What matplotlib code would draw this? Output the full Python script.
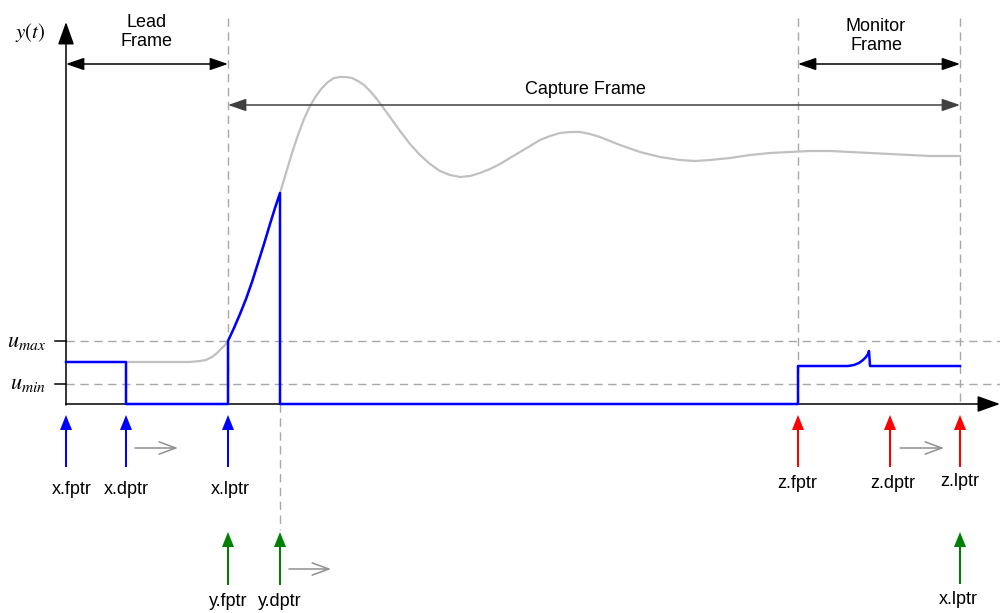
import matplotlib.pyplot as plt

plt.rcParams['font.family'] = ['Liberation Sans', 'DejaVu Sans']
plt.rcParams['mathtext.fontset'] = 'stix'

# drawing is laid out in pixel units, y grows downward
x0, y0 = 66, 404          # origin of the y(t) axes
x_end, y_top = 1000, 22
u_max, u_min = 341, 384

# pointer positions along the time axis, and where their labels are centred
x_ptrs = [66, 126, 228]
x_label_x = [72, 126, 230]
x_names = ['x.fptr', 'x.dptr', 'x.lptr']
y_ptrs = [228, 280]
y_names = ['y.fptr', 'y.dptr']
z_ptrs = [798, 890, 960]
z_label_x = [797, 893, 960]
z_names = ['z.fptr', 'z.dptr', 'z.lptr']

# response curve (gray)
resp_x = [126, 150, 180, 190, 200, 206, 212, 217, 221, 225,
          228, 234, 240, 246, 252, 258, 264, 270, 275, 280,
          286, 292, 298, 304, 310, 316, 322, 328, 334, 340, 346, 352, 358, 364, 370, 376, 382,
          390, 400, 410, 420, 430, 440, 450, 460, 470, 480, 490, 500, 510, 520, 530, 540,
          550, 560, 570, 580, 590, 600, 620, 640, 660, 680, 695, 710, 730, 750, 770, 790,
          810, 830, 850, 870, 890, 910, 930, 960]
resp_y = [362, 362, 362, 362, 361, 360, 357, 353, 349, 345,
          341, 328, 314, 299, 282, 263, 244, 224, 208, 193,
          173, 153, 135, 119, 106, 96, 88, 82, 78, 77, 77, 78, 81, 85, 91, 98, 106,
          117, 131, 144, 155, 164, 171, 175, 177, 176, 173, 169, 164, 158, 152, 146, 140,
          136, 133, 132, 132, 134, 137, 145, 152, 157, 160, 161, 160, 158, 155, 153, 152,
          151, 151, 152, 153, 154, 155, 156, 156]

# captured samples (blue): before lead frame, capture ramp, monitor frame with a small bump
samp_x = [66, 126, 126, 228] + resp_x[10:20] + [280, 798, 798, 848, 854, 859, 863, 866, 868, 869, 870, 960]
samp_y = [362, 362, 404, 404] + resp_y[10:20] + [404, 404, 366, 366, 365, 363, 360, 357, 354, 351, 366, 366]

fig = plt.figure(figsize=(10, 6.13), dpi=100)
ax = fig.add_axes([0, 0, 1, 1])
ax.set_xlim(0, 1000)
ax.set_ylim(613, 0)
ax.axis('off')

dash = dict(color='#a8a8a8', lw=1.0, ls=(0, (6, 4)), zorder=1)
# guide lines
ax.plot([x0, x_end], [u_max, u_max], **dash)
ax.plot([x0, x_end], [u_min, u_min], **dash)
for xv in [228, 798, 960]:
    ax.plot([xv, xv], [18, y0], **dash)
ax.plot([280, 280], [y0, 530], **dash)

# u ticks and labels
ax.plot([55, x0], [u_max, u_max], color='black', lw=1.1)
ax.plot([55, x0], [u_min, u_min], color='black', lw=1.1)
ax.text(46, u_max, r'$u_{max}$', fontsize=16, ha='right', va='center')
ax.text(46, u_min, r'$u_{min}$', fontsize=16, ha='right', va='center')
ax.text(30, 32, r'$y(t)$', fontsize=15, ha='center', va='center')

# curves
ax.plot(resp_x, resp_y, color='#c0c0c0', lw=1.6, zorder=2, solid_joinstyle='round')
ax.plot(samp_x, samp_y, color='#0000ff', lw=1.8, zorder=3)

# axes with arrow heads
axis_kw = dict(arrowstyle='-|>,head_length=0.7,head_width=0.25', color='black', lw=1.1,
               shrinkA=0, shrinkB=0, mutation_scale=20)
ax.annotate('', xy=(x0, y_top), xytext=(x0, y0 + 1), arrowprops=axis_kw, zorder=2)
ax.annotate('', xy=(x_end, y0), xytext=(x0, y0), arrowprops=axis_kw, zorder=2)

# frame arrows
frame_kw = dict(arrowstyle='<|-|>,head_length=0.55,head_width=0.19', lw=1.1,
                shrinkA=0, shrinkB=0, mutation_scale=20)
ax.annotate('', xy=(228, 64), xytext=(x0, 64), arrowprops=dict(color='black', **frame_kw))
ax.annotate('', xy=(960, 64), xytext=(798, 64), arrowprops=dict(color='black', **frame_kw))
ax.annotate('', xy=(960, 105), xytext=(228, 105), arrowprops=dict(color='#404040', **frame_kw))
ax.text(147, 32, 'Lead\nFrame', fontsize=13, ha='center', va='center', linespacing=1.1)
ax.text(876, 36, 'Monitor\nFrame', fontsize=13, ha='center', va='center', linespacing=1.1)
ax.text(585, 89, 'Capture Frame', fontsize=13, ha='center', va='center')


def pointer(xv, tip, tail, color, name, label_x, label_y):
    ax.arrow(xv, tail, 0, tip - tail, width=2, head_width=12, head_length=15,
             length_includes_head=True, color=color, lw=0)
    ax.text(label_x, label_y, name, fontsize=13, ha='center', va='center')


def move(xa, xb, yv):
    ax.annotate('', xy=(xb, yv), xytext=(xa, yv),
                arrowprops=dict(arrowstyle='->,head_length=0.6,head_width=0.22', color='#909090',
                                lw=1.1, shrinkA=0, shrinkB=0, mutation_scale=20))


for xv, lx, name in zip(x_ptrs, x_label_x, x_names):
    pointer(xv, 415, 467, '#0000ff', name, lx, 490)
for xv, lx, name in zip(z_ptrs, z_label_x, z_names):
    pointer(xv, 415, 467, '#ff0000', name, lx, 483 if name != 'z.lptr' else 481)
for xv, name in zip(y_ptrs, y_names):
    pointer(xv, 532, 585, '#008000', name, xv, 602)
pointer(960, 532, 584, '#008000', 'x.lptr', 958, 600)

move(135, 178, 448)
move(900, 944, 448)
move(289, 331, 569)

fig.savefig('out.png', dpi=100)
